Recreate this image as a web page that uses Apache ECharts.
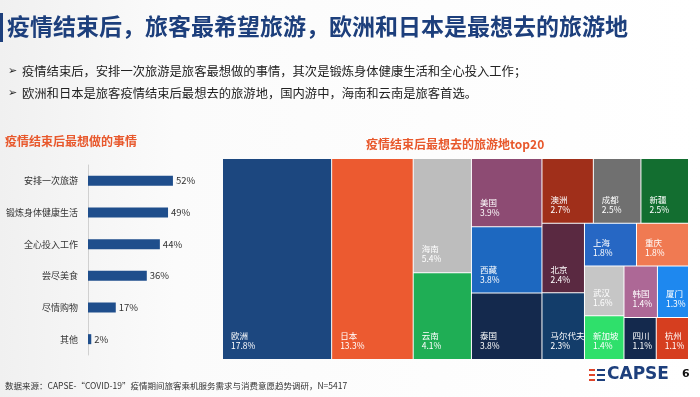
<!DOCTYPE html>
<html>
<head>
<meta charset="utf-8">
<script src="https://cdn.jsdelivr.net/npm/echarts@6.0.0/dist/echarts.min.js"></script>
<style>
html, body { margin: 0; padding: 0; background: #fff; }
#main { width: 700px; height: 397px; }
</style>
</head>
<body>
<div id="main"></div>
<script>
// 疫情结束后最想做的事情（%）
var thingNames = ['安排一次旅游', '锻炼身体健康生活', '全心投入工作', '尝尽美食', '尽情购物', '其他'];
var thingValues = [52, 49, 44, 36, 17, 2];

// 疫情结束后最想去的旅游地 top20（%）
var placeNames = ['欧洲', '日本', '海南', '云南', '美国', '西藏', '泰国', '澳洲', '成都', '新疆',
    '北京', '马尔代夫', '上海', '重庆', '武汉', '新加坡', '韩国', '厦门', '四川', '杭州'];
var placeValues = [17.8, 13.3, 5.4, 4.1, 3.9, 3.8, 3.8, 2.7, 2.5, 2.5,
    2.4, 2.3, 1.8, 1.8, 1.6, 1.4, 1.4, 1.3, 1.1, 1.1];

var placeColors = ['#1c477f', '#ec5a30', '#bdbdbd', '#1fae55', '#8d4b73', '#1d68c0', '#14294d', '#a02f1a', '#707070', '#136e30',
    '#5a2941', '#133d6a', '#2667c4', '#f07a52', '#c6c6c6', '#2fe06b', '#ad6896', '#1e88ef', '#14294d', '#d63e1f'];

// 前4个单独排布，其余放进一个分组里，这样treemap的切分和原图一致
var topCount = 4;

var cjk = '"Noto Sans CJK SC", "Noto Sans", sans-serif';
var navy = '#1d3f7c';
var orange = '#e8582c';

function leaf(i) {
    return { name: placeNames[i], value: placeValues[i], itemStyle: { color: placeColors[i] } };
}
var treeData = [];
var restChildren = [];
placeNames.forEach(function (n, i) {
    if (i < topCount) treeData.push(leaf(i));
    else restChildren.push(leaf(i));
});
treeData.push({ name: '', children: restChildren, itemStyle: { color: '#fff' } });

var myChart = echarts.init(document.getElementById('main'));

var option = {
    backgroundColor: {
        type: 'linear', x: 0, y: 0, x2: 1, y2: 0,
        colorStops: [
            { offset: 0, color: '#f0f0f0' },
            { offset: 0.25, color: '#fbfbfb' },
            { offset: 1, color: '#ffffff' }
        ]
    },
    animation: false,
    textStyle: { fontFamily: cjk },
    title: [
        {
            text: '疫情结束后，旅客最希望旅游，欧洲和日本是最想去的旅游地',
            left: 7, top: 15, padding: 0,
            textStyle: { fontSize: 23, fontWeight: 'bold', color: navy, fontFamily: cjk }
        },
        {
            text: '疫情结束后最想做的事情',
            left: 5, top: 135, padding: 0,
            textStyle: { fontSize: 12, fontWeight: 'bold', color: orange, fontFamily: cjk }
        },
        {
            text: '疫情结束后最想去的旅游地top20',
            left: 366, top: 138, padding: 0,
            textStyle: { fontSize: 12, fontWeight: 'bold', color: orange, fontFamily: cjk }
        }
    ],
    grid: { left: 88, top: 165, width: 98, height: 190 },
    xAxis: { type: 'value', min: 0, max: 60, show: false },
    yAxis: {
        type: 'category',
        inverse: true,
        data: thingNames,
        axisLine: { lineStyle: { color: '#d0d0d0' } },
        axisTick: { show: false },
        axisLabel: { fontSize: 9, color: '#333', margin: 10 }
    },
    graphic: [
        { type: 'rect', shape: { x: 0, y: 13, width: 3, height: 29 }, style: { fill: navy } },
        { type: 'text', x: 8, y: 71, style: { text: '➢', font: '11px "DejaVu Sans", sans-serif', fill: '#222', textVerticalAlign: 'middle' } },
        { type: 'text', x: 22, y: 71, style: { text: '疫情结束后，安排一次旅游是旅客最想做的事情，其次是锻炼身体健康生活和全心投入工作；', font: '12.3px ' + cjk, fill: '#222', textVerticalAlign: 'middle' } },
        { type: 'text', x: 8, y: 93, style: { text: '➢', font: '11px "DejaVu Sans", sans-serif', fill: '#222', textVerticalAlign: 'middle' } },
        { type: 'text', x: 22, y: 93, style: { text: '欧洲和日本是旅客疫情结束后最想去的旅游地，国内游中，海南和云南是旅客首选。', font: '12.3px ' + cjk, fill: '#222', textVerticalAlign: 'middle' } },
        { type: 'text', x: 5, y: 386, style: { text: '数据来源：CAPSE-“COVID-19”疫情期间旅客乘机服务需求与消费意愿趋势调研，N=5417', font: '8.5px ' + cjk, fill: '#333', textVerticalAlign: 'middle' } },
        // logo
        { type: 'rect', shape: { x: 589, y: 369, width: 6, height: 2 }, style: { fill: '#e0452a' } },
        { type: 'rect', shape: { x: 589, y: 374, width: 6, height: 2 }, style: { fill: '#e0452a' } },
        { type: 'rect', shape: { x: 589, y: 379, width: 6, height: 2 }, style: { fill: '#e0452a' } },
        { type: 'rect', shape: { x: 597, y: 369, width: 8, height: 2 }, style: { fill: navy } },
        { type: 'rect', shape: { x: 597, y: 374, width: 8, height: 2 }, style: { fill: navy } },
        { type: 'rect', shape: { x: 597, y: 379, width: 8, height: 2 }, style: { fill: navy } },
        { type: 'text', x: 607, y: 375, style: { text: 'CAPSE', font: 'bold 17px "DejaVu Sans", sans-serif', fill: navy, textVerticalAlign: 'middle' } },
        { type: 'text', x: 682, y: 374, style: { text: '6', font: 'bold 11px "DejaVu Sans", sans-serif', fill: '#111', textVerticalAlign: 'middle' } }
    ],
    series: [
        {
            type: 'bar',
            data: thingValues,
            barWidth: 10,
            itemStyle: { color: '#1f4e8c' },
            label: { show: true, position: 'right', distance: 3, formatter: '{c}%', fontSize: 9.5, color: '#333' },
            silent: true
        },
        {
            type: 'treemap',
            left: 223, top: 159, width: 465, height: 200,
            roam: false,
            nodeClick: false,
            breadcrumb: { show: false },
            sort: false,
            squareRatio: 0.89,
            silent: true,
            label: {
                show: true,
                position: 'insideBottomLeft',
                distance: 3,
                formatter: '{b}\n{c}%',
                color: '#fff',
                fontSize: 8.5,
                lineHeight: 10,
                overflow: 'none',
                fontFamily: cjk
            },
            upperLabel: { show: false },
            itemStyle: { borderWidth: 0, gapWidth: 1, borderColor: '#fff' },
            levels: [
                { itemStyle: { borderWidth: 0, gapWidth: 1, borderColor: '#fff' } },
                { itemStyle: { borderWidth: 0, gapWidth: 1, borderColor: '#fff' } }
            ],
            data: treeData
        }
    ]
};

myChart.setOption(option);
</script>
</body>
</html>
